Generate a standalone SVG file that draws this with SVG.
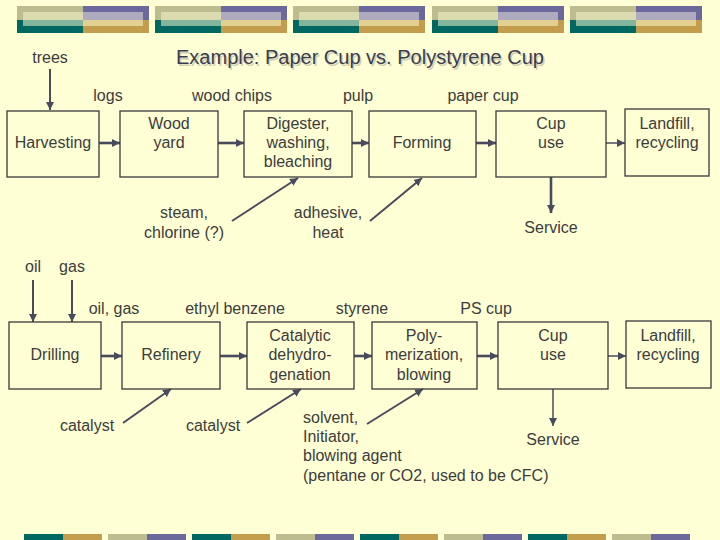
<svg xmlns="http://www.w3.org/2000/svg" width="720" height="540" viewBox="0 0 720 540">
<defs>
<style>
text{font-family:"Liberation Sans",Arial,sans-serif;font-size:16px;fill:#3c3c3c;text-anchor:middle}
.l{text-anchor:start}
.title{font-size:20px;fill:#3c3c4e}
.sh{font-size:20px;fill:#cfcfb4}
.box{fill:none;stroke:#3a3a3a;stroke-width:1.3}
.a{fill:none;stroke:#4a4a5e;stroke-width:2.6;marker-end:url(#ah)}
.t{fill:none;stroke:#4a4a5e;stroke-width:1.5;marker-end:url(#ah)}
.d{fill:none;stroke:#4a4a5e;stroke-width:2;marker-end:url(#ah)}
</style>
<marker id="ah" markerUnits="userSpaceOnUse" markerWidth="10" markerHeight="10" refX="8" refY="4" orient="auto" viewBox="0 0 10 8">
<path d="M0,0 L8,4 L0,8 Z" fill="#4a4a5e"/>
</marker>
<g id="blk">
<rect x="0" y="0" width="66" height="14" fill="#bcbc8e"/>
<rect x="66" y="0" width="66" height="14" fill="#6b699c"/>
<rect x="0" y="14" width="66" height="13" fill="#006861"/>
<rect x="66" y="14" width="66" height="13" fill="#c39d4b"/>
<rect x="6" y="6" width="60" height="8" fill="#dadcb0"/>
<rect x="66" y="6" width="60" height="8" fill="#afabbf"/>
<rect x="6" y="14" width="60" height="6" fill="#82b59c"/>
<rect x="66" y="14" width="60" height="6" fill="#e1d092"/>
</g>
<g id="bp1"><rect x="0" y="0" width="39" height="6" fill="#006861"/><rect x="39" y="0" width="39" height="6" fill="#c39d4b"/></g>
<g id="bp2"><rect x="0" y="0" width="39" height="6" fill="#bcbc8e"/><rect x="39" y="0" width="39" height="6" fill="#6b699c"/></g>
</defs>
<rect width="720" height="540" fill="#ffffd6"/>
<g id="decor">
<use href="#blk" x="17" y="6"/>
<use href="#blk" x="155" y="6"/>
<use href="#blk" x="293" y="6"/>
<use href="#blk" x="432" y="6"/>
<use href="#blk" x="570" y="6"/>
<use href="#bp1" x="24" y="534"/>
<use href="#bp2" x="108" y="534"/>
<use href="#bp1" x="192" y="534"/>
<use href="#bp2" x="276" y="534"/>
<use href="#bp1" x="360" y="534"/>
<use href="#bp2" x="444" y="534"/>
<use href="#bp1" x="528" y="534"/>
<use href="#bp2" x="612" y="534"/>
</g>
<g id="title">
<text class="sh" x="361.5" y="65.5">Example: Paper Cup vs. Polystyrene Cup</text>
<text class="title" x="360" y="64">Example: Paper Cup vs. Polystyrene Cup</text>
</g>
<g id="connectors">
<line class="d" x1="50" y1="69" x2="50" y2="110"/>
<line class="a" x1="99" y1="143" x2="120" y2="143"/>
<line class="a" x1="218" y1="143" x2="244" y2="143"/>
<line class="a" x1="352" y1="143" x2="369" y2="143"/>
<line class="a" x1="476" y1="143" x2="496" y2="143"/>
<line class="t" x1="606" y1="143" x2="625" y2="143"/>
<line class="a" x1="551" y1="177" x2="551" y2="213"/>
<line class="d" x1="232" y1="221" x2="298" y2="178"/>
<line class="d" x1="370" y1="221" x2="422" y2="178"/>
<line class="d" x1="33" y1="280" x2="33" y2="322"/>
<line class="d" x1="72" y1="280" x2="72" y2="322"/>
<line class="a" x1="101" y1="356" x2="122" y2="356"/>
<line class="a" x1="220" y1="356" x2="247" y2="356"/>
<line class="a" x1="354" y1="356" x2="372" y2="356"/>
<line class="a" x1="477" y1="356" x2="498" y2="356"/>
<line class="t" x1="608" y1="356" x2="626" y2="356"/>
<line class="t" x1="553" y1="389" x2="553" y2="426"/>
<line class="d" x1="123" y1="423" x2="171" y2="389"/>
<line class="d" x1="247" y1="423" x2="301" y2="389"/>
<line class="d" x1="367" y1="424" x2="423" y2="389"/>
</g>
<g id="labels">
<text x="50" y="63">trees</text>
<text x="108" y="101">logs</text>
<text x="232" y="101">wood chips</text>
<text x="358" y="101">pulp</text>
<text x="483" y="101">paper cup</text>
<text x="184" y="218">steam,</text>
<text x="184" y="238">chlorine (?)</text>
<text x="328" y="218">adhesive,</text>
<text x="328" y="238">heat</text>
<text x="551" y="233">Service</text>
<text x="33" y="272">oil</text>
<text x="72" y="272">gas</text>
<text x="114" y="314">oil, gas</text>
<text x="235" y="314">ethyl benzene</text>
<text x="362" y="314">styrene</text>
<text x="486" y="314">PS cup</text>
<text x="87" y="431">catalyst</text>
<text x="213" y="431">catalyst</text>
<text x="553" y="445">Service</text>
<text class="l" x="303" y="423">solvent,</text>
<text class="l" x="303" y="442">Initiator,</text>
<text class="l" x="303" y="461">blowing agent</text>
<text class="l" x="303" y="481">(pentane or CO2, used to be CFC)</text>
</g>
<g id="harvesting"><rect class="box" x="7" y="111" width="92" height="66"/><text x="53" y="148">Harvesting</text></g>
<g id="woodyard"><rect class="box" x="120" y="111" width="98" height="66"/><text x="169" y="129">Wood</text><text x="169" y="148">yard</text></g>
<g id="digester"><rect class="box" x="244" y="111" width="108" height="66"/><text x="298" y="129">Digester,</text><text x="298" y="148">washing,</text><text x="298" y="167">bleaching</text></g>
<g id="forming"><rect class="box" x="369" y="111" width="107" height="66"/><text x="422" y="148">Forming</text></g>
<g id="cupuse1"><rect class="box" x="496" y="111" width="110" height="66"/><text x="551" y="129">Cup</text><text x="551" y="148">use</text></g>
<g id="landfill1"><rect class="box" x="625" y="109" width="84" height="67"/><text x="667" y="129">Landfill,</text><text x="667" y="148">recycling</text></g>
<g id="drilling"><rect class="box" x="9" y="322" width="92" height="67"/><text x="55" y="360">Drilling</text></g>
<g id="refinery"><rect class="box" x="122" y="322" width="98" height="67"/><text x="171" y="360">Refinery</text></g>
<g id="catalytic"><rect class="box" x="247" y="322" width="107" height="67"/><text x="300" y="341">Catalytic</text><text x="300" y="360">dehydro-</text><text x="300" y="380">genation</text></g>
<g id="poly"><rect class="box" x="372" y="322" width="105" height="67"/><text x="424" y="341">Poly-</text><text x="424" y="360">merization,</text><text x="424" y="380">blowing</text></g>
<g id="cupuse2"><rect class="box" x="498" y="322" width="110" height="67"/><text x="553" y="341">Cup</text><text x="553" y="360">use</text></g>
<g id="landfill2"><rect class="box" x="626" y="321" width="85" height="67"/><text x="668" y="341">Landfill,</text><text x="668" y="360">recycling</text></g>
</svg>
